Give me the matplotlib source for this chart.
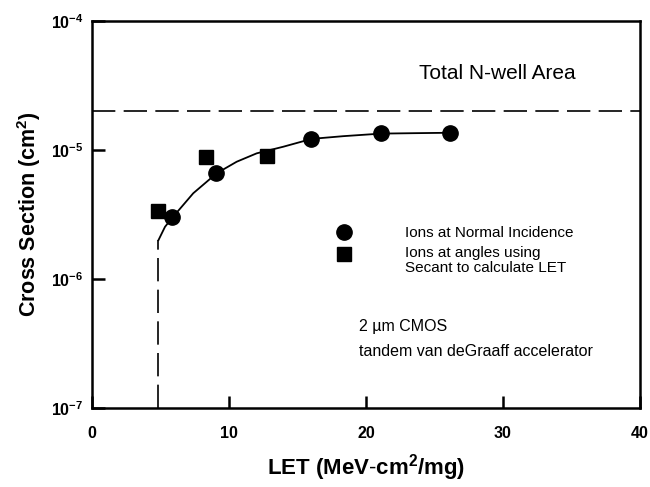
import matplotlib
matplotlib.use("Agg")
import matplotlib.pyplot as plt
from matplotlib.ticker import FixedLocator, NullLocator

plt.rcParams['font.family'] = ['Liberation Sans', 'DejaVu Sans']
plt.rcParams['mathtext.fontset'] = 'custom'
plt.rcParams['mathtext.rm'] = 'Liberation Sans'
plt.rcParams['mathtext.bf'] = 'Liberation Sans:bold'
plt.rcParams['mathtext.it'] = 'Liberation Sans:italic'

# Measured cross sections
normal_let = [5.85, 9.05, 16.0, 21.1, 26.1]
normal_xs = [3.0e-6, 6.6e-6, 1.22e-5, 1.36e-5, 1.35e-5]
angle_let = [4.85, 8.3, 12.8]
angle_xs = [3.37e-6, 8.9e-6, 9.0e-6]

# Fitted response curve
fit_let = [4.85, 5.33, 5.89, 7.39, 9.10, 10.56, 12.02, 13.96, 16.04, 18.34, 21.09, 23.45, 26.08]
fit_xs = [2.0e-6, 2.54e-6, 3.01e-6, 4.62e-6, 6.6e-6, 8.11e-6, 9.42e-6, 1.06e-5,
          1.22e-5, 1.28e-5, 1.34e-5, 1.35e-5, 1.36e-5]

# Total N-well area and LET threshold
nwell_area = 2.0e-5
let_threshold = 4.85
threshold_xs = 2.0e-6

x_ticks = [0, 10, 20, 30, 40]
y_ticks = [1e-7, 1e-6, 1e-5, 1e-4]
y_tick_labels = [r'$\mathbf{10^{-7}}$', r'$\mathbf{10^{-6}}$', r'$\mathbf{10^{-5}}$', r'$\mathbf{10^{-4}}$']

fig = plt.figure(figsize=(6.5, 4.87), dpi=100)
ax = fig.add_axes([92/650, 1 - 408/487, (640 - 92)/650, (408 - 21)/487])

ax.set_yscale('log')
ax.set_xlim(0, 40)
ax.set_ylim(1e-7, 1e-4)

ax.axhline(nwell_area, color='black', lw=1.2, dashes=(14, 5))
ax.plot([let_threshold, let_threshold], [1e-7, threshold_xs], color='black', lw=1.2, dashes=(14, 5))
ax.plot(fit_let, fit_xs, color='black', lw=1.3)

ax.plot(normal_let, normal_xs, 'o', color='black', ms=11, zorder=3)
ax.plot(angle_let, angle_xs, 's', color='black', ms=9.5, zorder=3)

# Key: markers with their descriptions
ax.plot([18.4], [2.31e-6], 'o', color='black', ms=11)
ax.plot([18.4], [1.57e-6], 's', color='black', ms=9.5)
ax.text(22.85, 2.29e-6, 'Ions at Normal Incidence', fontsize=11, va='center', ha='left')
ax.text(22.85, 1.60e-6, 'Ions at angles using', fontsize=11, va='center', ha='left')
ax.text(22.85, 1.22e-6, 'Secant to calculate LET', fontsize=11, va='center', ha='left')

ax.text(29.6, 3.9e-5, 'Total N-well Area', fontsize=15, ha='center', va='center')
ax.text(19.5, 4.25e-7, '2 \u00b5m CMOS', fontsize=11.5, ha='left', va='center')
ax.text(19.5, 2.75e-7, 'tandem van deGraaff accelerator', fontsize=11.5, ha='left', va='center')

ax.xaxis.set_major_locator(FixedLocator(x_ticks))
ax.yaxis.set_major_locator(FixedLocator(y_ticks))
ax.yaxis.set_minor_locator(NullLocator())
ax.set_yticklabels(y_tick_labels)
ax.set_xticklabels([str(t) for t in x_ticks])

ax.tick_params(direction='in', length=9, width=1.8, labelsize=11.5)
ax.tick_params(axis='x', pad=13)
ax.tick_params(axis='y', pad=6)
for lab in ax.get_xticklabels():
    lab.set_fontweight('bold')

for s in ax.spines.values():
    s.set_linewidth(1.8)

ax.set_xlabel(r'$\mathbf{LET\ (MeV\text{-}cm^2/mg)}$', fontsize=16, labelpad=8)
ax.set_ylabel(r'$\mathbf{Cross\ Section\ (cm^2)}$', fontsize=15.5, labelpad=6)

fig.savefig('out.png', dpi=100)
